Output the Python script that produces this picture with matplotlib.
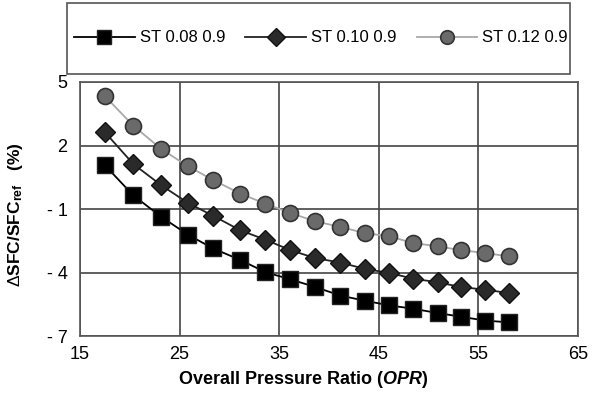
import matplotlib
matplotlib.use("Agg")
import matplotlib.pyplot as plt
from matplotlib.patches import Rectangle

plt.rcParams['font.family'] = ['Liberation Sans', 'DejaVu Sans']
plt.rcParams['mathtext.fontset'] = 'custom'
plt.rcParams['mathtext.rm'] = 'Liberation Sans'
plt.rcParams['mathtext.bf'] = 'Liberation Sans:bold'
plt.rcParams['mathtext.it'] = 'Liberation Sans:italic'
plt.rcParams['mathtext.bfit'] = 'Liberation Sans:bold:italic'

# data
opr = [17.5, 20.35, 23.15, 25.85, 28.35, 31.1, 33.6, 36.1, 38.6, 41.15,
       43.6, 46.05, 48.45, 50.9, 53.3, 55.7, 58.05]
st_008 = [1.07, -0.35, -1.36, -2.21, -2.85, -3.40, -3.97, -4.31, -4.67, -5.08,
          -5.32, -5.54, -5.70, -5.90, -6.08, -6.26, -6.34]
st_010 = [2.63, 1.13, 0.13, -0.71, -1.31, -2.00, -2.44, -2.93, -3.31, -3.52,
          -3.82, -4.01, -4.28, -4.45, -4.68, -4.80, -4.96]
st_012 = [4.33, 2.94, 1.84, 1.02, 0.38, -0.27, -0.74, -1.18, -1.57, -1.84,
          -2.13, -2.28, -2.60, -2.75, -2.94, -3.07, -3.23]
labels = ['ST 0.08 0.9', 'ST 0.10 0.9', 'ST 0.12 0.9']

xticks = [15, 25, 35, 45, 55, 65]
yticks = [-7, -4, -1, 2, 5]
ytick_labels = ['- 7', '- 4', '- 1', '2', '5']

W, H = 596, 393
fig = plt.figure(figsize=(W / 100, H / 100), dpi=100)
ax = fig.add_axes([80 / W, 1 - 336.3 / H, (578 - 80) / W, (336.3 - 82) / H])

l1, = ax.plot(opr, st_008, color='black', lw=1.3, marker='s', ms=12,
              mfc='black', mec='#222222', zorder=5)
l2, = ax.plot(opr, st_010, color='#222222', lw=1.3, marker='D', ms=10.5,
              mfc='#2a2a2a', mec='#111111', zorder=5)
l3, = ax.plot(opr, st_012, color='#a8a8a8', lw=1.3, marker='o', ms=11.5,
              mfc='#6a6a6a', mec='#333333', mew=1.2, zorder=5)

ax.set_xlim(15, 65)
ax.set_ylim(-7, 5)
ax.set_xticks(xticks)
ax.set_yticks(yticks)
ax.set_yticklabels(ytick_labels)
ax.grid(True, color='#444444', lw=1.2)
ax.set_axisbelow(True)
for s in ax.spines.values():
    s.set_color('#555555')
    s.set_linewidth(1.2)
ax.tick_params(length=0, labelsize=13, pad=7)
ax.tick_params(axis='y', pad=9)

ax.set_xlabel(r'$\mathbf{Overall\ Pressure\ Ratio\ (}\mathbfit{OPR}\mathbf{)}$',
              fontsize=13)
ax.xaxis.set_label_coords((303 - 80) / (578 - 80), -0.13)
ax.set_ylabel(r'$\Delta\mathbf{SFC/SFC}_{\mathbf{ref}}\ \ \ \mathbf{(\%)}$',
              fontsize=12.5)
ax.yaxis.set_label_coords(-(80 - 25) / (578 - 80), 0.48)

# legend box across the top
fig.patches.append(Rectangle((67 / W, 1 - 74 / H), (570 - 67) / W, 71 / H,
                             transform=fig.transFigure, fill=False,
                             edgecolor='#555555', lw=1.2))
fig.legend([l1, l2, l3], labels, loc='center', ncol=3, frameon=False,
           bbox_to_anchor=(321 / W, 1 - 38 / H), fontsize=12,
           handlelength=3.65, handletextpad=0.3, columnspacing=1.2,
           markerscale=0.85)

fig.savefig('out.png', dpi=100)
